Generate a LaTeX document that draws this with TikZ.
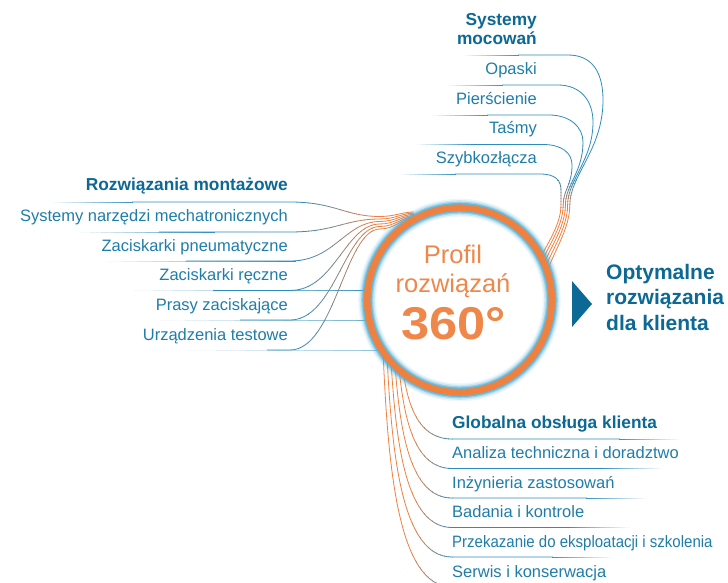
\documentclass[tikz,border=0pt]{standalone}
\usepackage{fontspec}
\setmainfont{Liberation Sans}
\definecolor{lblue}{HTML}{2E8CBC}
\definecolor{tblue}{HTML}{1F7DAA}
\definecolor{hblue}{HTML}{0C6894}
\definecolor{lorange}{HTML}{EF8040}
\definecolor{torange}{HTML}{F0874A}
\definecolor{glowc}{HTML}{4FB0D6}
\tikzset{
  item/.style={text=tblue, font=\fontsize{16.5}{18}\selectfont, inner sep=0pt},
  head/.style={text=hblue, font=\bfseries\fontsize{17.3}{19}\selectfont, inner sep=0pt},
  outtxt/.style={text=hblue, font=\bfseries\fontsize{21}{25.5}\selectfont, inner sep=0pt},
  hubtxt/.style={text=torange, font=\fontsize{25.5}{28}\selectfont, inner sep=0pt},
  hubbig/.style={text=torange, font=\bfseries\fontsize{46}{50}\selectfont, inner sep=0pt},
  wire/.style={line width=0.8pt},
}
% fading straight piece: #1 = x of white end, #2 = x of coloured end, #3 = y
\newcommand\fadeline[3]{%
  \foreach \n in {0,...,11}{%
    \pgfmathsetmacro\xa{#1+(#2-#1)*\n/12}%
    \pgfmathsetmacro\xb{#1+(#2-#1)*(\n+1.15)/12}%
    \pgfmathtruncatemacro\p{4+8*\n}%
    \draw[wire, lblue!\p!white] (\xa,#3) -- (\xb,#3);
  }}
% ---------- connector paths ----------
\newcommand\LeftPaths{%
  \foreach \yy/\mm/\ee [count=\j from 0] in {202/216.5/212,232/219/213.2,261/221.5/214.4,290.5/224/215.6,320/226.5/216.8,350/229/218}{%
    \draw[wire] (ls\j) -- (290,\yy) .. controls (335,\yy) and (345,\mm) .. (380,\mm) .. controls (395,\mm) and (402,\ee) .. (le\j);
  }}
\newcommand\TopPaths{%
  \draw[wire] (ts0) -- (568,55) .. controls (592,55) and (603,72) .. (603,100) .. controls (603,150) and (569.8,175) .. (569.8,205) .. controls (569.8,228) and (554.8,250) .. (te0);
  \draw[wire] (ts1) -- (558,85) .. controls (580,85) and (593,100) .. (593,122) .. controls (593,160) and (567.6,180) .. (567.6,205) .. controls (567.6,228) and (551.6,250) .. (te1);
  \draw[wire] (ts2) -- (549,115) .. controls (570,115) and (583,127) .. (583,142) .. controls (583,172) and (565.4,185) .. (565.4,205) .. controls (565.4,228) and (548.4,250) .. (te2);
  \draw[wire] (ts3) -- (543,144.5) .. controls (562,144.5) and (572,153) .. (572,165) .. controls (572,185) and (563.2,190) .. (563.2,205) .. controls (563.2,228) and (545.2,250) .. (te3);
  \draw[wire] (ts4) -- (540,174) .. controls (555,174) and (561,180) .. (561,190) -- (561,205) .. controls (561,228) and (542,250) .. (te4);
}
\newcommand\BotPaths{%
  \foreach \xx/\ys/\yy [count=\k from 0] in {403/371/439,399/368/468.5,395/365/498,391/361/527.5,387/356/557,383/350.5/587}{%
    \draw[wire] (bs\k) .. controls ({\xx+5},{(\ys+\yy)/2}) and ({\xx+15},\yy) .. (452,\yy) -- (be\k);
  }}
\begin{document}
\begin{tikzpicture}[x=1pt,y=-1pt]
\useasboundingbox (0,0) rectangle (728,583);
\fill[white] (0,0) rectangle (728,583);

% ---------- named end points and faded line starts ----------
\foreach \yy/\ee [count=\j from 0] in {202/212,232/213.2,261/214.4,290.5/215.6,320/216.8,350/218}{
  \coordinate (ls\j) at ({132+27*\j},\yy);
  \coordinate (le\j) at (414,\ee);
  \fadeline{52+27*\j}{132+27*\j}{\yy}
}
\foreach \sx/\yy/\xe [count=\i from 0] in {463/55/546.8,447/85/543.6,432/115/540.4,416/144.5/537.2,400/174/534}{
  \coordinate (ts\i) at ({\sx+55},\yy);
  \coordinate (te\i) at (\xe,272);
  \fadeline{\sx}{\sx+55}{\yy}
}
\foreach \xx/\ys/\yy/\xe [count=\k from 0] in {403/371/439/680,399/368/468.5/663,395/365/498/647,391/361/527.5/630,387/356/557/613,383/350.5/587/596}{
  \coordinate (bs\k) at (\xx,\ys);
  \coordinate (be\k) at ({\xe-60},\yy);
  \fadeline{\xe}{\xe-60}{\yy}
}

% ---------- left group: blue -> orange along x ----------
\begin{scope}\clip (0,0) rectangle (300.5,583);\begin{scope}[color=lblue]\LeftPaths\end{scope}\end{scope}
\foreach \m in {0,...,9}{
  \pgfmathsetmacro\xa{300+8*\m}\pgfmathsetmacro\xb{\xa+8.5}\pgfmathtruncatemacro\q{5+10*\m}
  \begin{scope}\clip (\xa,0) rectangle (\xb,583);\begin{scope}[color=lorange!\q!lblue]\LeftPaths\end{scope}\end{scope}
}
\begin{scope}\clip (380,0) rectangle (728,583);\begin{scope}[color=lorange]\LeftPaths\end{scope}\end{scope}

% ---------- top group: blue -> orange along y ----------
\begin{scope}\clip (0,0) rectangle (728,180.5);\begin{scope}[color=lblue]\TopPaths\end{scope}\end{scope}
\foreach \m in {0,...,9}{
  \pgfmathsetmacro\ya{180+3*\m}\pgfmathsetmacro\yb{\ya+3.5}\pgfmathtruncatemacro\q{5+10*\m}
  \begin{scope}\clip (0,\ya) rectangle (728,\yb);\begin{scope}[color=lorange!\q!lblue]\TopPaths\end{scope}\end{scope}
}
\begin{scope}\clip (0,210) rectangle (728,583);\begin{scope}[color=lorange]\TopPaths\end{scope}\end{scope}

% ---------- bottom group: orange -> blue along x ----------
\begin{scope}\clip (0,0) rectangle (412.5,583);\begin{scope}[color=lorange]\BotPaths\end{scope}\end{scope}
\foreach \m in {0,...,9}{
  \pgfmathsetmacro\xa{412+4*\m}\pgfmathsetmacro\xb{\xa+4.5}\pgfmathtruncatemacro\q{95-10*\m}
  \begin{scope}\clip (\xa,0) rectangle (\xb,583);\begin{scope}[color=lorange!\q!lblue]\BotPaths\end{scope}\end{scope}
}
\begin{scope}\clip (452,0) rectangle (728,583);\begin{scope}[color=lblue]\BotPaths\end{scope}\end{scope}

% ---------- hub ----------
\node[circle, inner sep=0pt, minimum size=0pt] (hub) at (459.5,300) {};
\fill[white] (hub.center) circle (93pt);
\draw[glowc, line width=18pt, opacity=0.10] (hub.center) circle (92.3pt);
\draw[glowc, line width=15pt, opacity=0.20] (hub.center) circle (92.3pt);
\draw[glowc, line width=12pt, opacity=0.40] (hub.center) circle (92.3pt);
\draw[glowc, line width=9.5pt, opacity=0.70] (hub.center) circle (92.3pt);
\draw[lorange, line width=6.5pt] (hub.center) circle (92.3pt);
\node[hubtxt, anchor=base] (h1) at (453,263) {Profil};
\node[hubtxt, anchor=base] (h2) at (453,292) {rozwiązań};
\node[hubbig, anchor=base] (h3) at (453.5,339) {\scalebox{1.1}[1]{360°}};

% ---------- top labels ----------
\node[head, anchor=base east] (tA) at (537,26) {Systemy};
\node[head, anchor=base east] (tB) at (537,44.5) {mocowań};
\node[item, anchor=base east] (t1) at (537,75) {Opaski};
\node[item, anchor=base east] (t2) at (537,104.5) {Pierścienie};
\node[item, anchor=base east] (t3) at (537,134) {Taśmy};
\node[item, anchor=base east] (t4) at (537,164) {Szybkozłącza};

% ---------- left labels ----------
\node[head, anchor=base east] (lA) at (288,190.5) {Rozwiązania montażowe};
\node[item, anchor=base east] (l1) at (288,221) {Systemy narzędzi mechatronicznych};
\node[item, anchor=base east] (l2) at (288,251) {Zaciskarki pneumatyczne};
\node[item, anchor=base east] (l3) at (288,280.5) {Zaciskarki ręczne};
\node[item, anchor=base east] (l4) at (288,310) {Prasy zaciskające};
\node[item, anchor=base east] (l5) at (288,340) {Urządzenia testowe};

% ---------- bottom labels ----------
\node[head, anchor=base west] (bA) at (452,428.5) {Globalna obsługa klienta};
\node[item, anchor=base west] (b1) at (452,458) {Analiza techniczna i doradztwo};
\node[item, anchor=base west] (b2) at (452,488) {Inżynieria zastosowań};
\node[item, anchor=base west] (b3) at (452,517.5) {Badania i kontrole};
\node[item, anchor=base west] (b4) at (452,547) {\scalebox{0.91}[1]{Przekazanie do eksploatacji i szkolenia}};
\node[item, anchor=base west] (b5) at (452,577) {Serwis i konserwacja};

% ---------- output ----------
\fill[hblue] (572,281) -- (592,304) -- (572,327) -- cycle;
\node[outtxt, anchor=base west] (o1) at (606,279) {Optymalne};
\node[outtxt, anchor=base west] (o2) at (606,304.5) {rozwiązania};
\node[outtxt, anchor=base west] (o3) at (606,330) {dla klienta};
\end{tikzpicture}
\end{document}
